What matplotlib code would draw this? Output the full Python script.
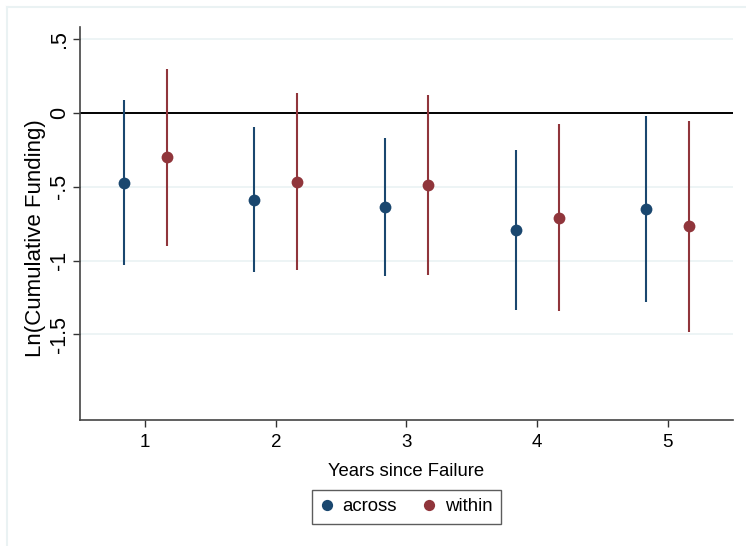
import matplotlib
matplotlib.use("Agg")
import matplotlib.pyplot as plt
from matplotlib.lines import Line2D
import numpy as np

plt.rcParams['font.family'] = ['Liberation Sans', 'DejaVu Sans']

# Event-time coefficients with 95% confidence intervals
years = [1, 2, 3, 4, 5]
across_est = [-0.475, -0.586, -0.638, -0.792, -0.652]
across_lo = [-1.030, -1.075, -1.107, -1.337, -1.283]
across_hi = [0.086, -0.095, -0.167, -0.249, -0.016]
within_est = [-0.300, -0.464, -0.486, -0.710, -0.767]
within_lo = [-0.900, -1.063, -1.097, -1.340, -1.482]
within_hi = [0.300, 0.136, 0.125, -0.074, -0.050]

series_names = ["across", "within"]
yticks = [0.5, 0, -0.5, -1, -1.5]
ytick_labels = [".5", "0", "-.5", "-1", "-1.5"]

navy = "#1a476f"
maroon = "#90353b"
grid_col = "#eaf2f3"

W, H = 746, 546
fig = plt.figure(figsize=(W / 100, H / 100), dpi=100)
ax = fig.add_axes([80 / W, 1 - 420 / H, (733 - 80) / W, (420 - 27) / H])

# light outer frame of the graph region (top and left edges)
fig.lines.append(Line2D([7 / W, 1.0], [1 - 7 / H, 1 - 7 / H],
                        transform=fig.transFigure, color=grid_col, linewidth=1.5))
fig.lines.append(Line2D([7 / W, 7 / W], [0.0, 1 - 7 / H],
                        transform=fig.transFigure, color=grid_col, linewidth=1.5))

x = np.array(years, dtype=float)
off = 0.165

for xs, est, lo, hi, col, name in [
    (x - off, across_est, across_lo, across_hi, navy, series_names[0]),
    (x + off, within_est, within_lo, within_hi, maroon, series_names[1]),
]:
    ax.vlines(xs, lo, hi, color=col, linewidth=1.5, zorder=3)
    ax.plot(xs, est, 'o', color=col, markersize=8.5, markeredgewidth=0,
            linestyle='none', zorder=4, label=name)

ax.axhline(0, color="black", linewidth=1.4, zorder=2)

ax.set_xlim(0.5, 5.5)
ax.set_ylim(-2.08, 0.584)
ax.set_yticks(yticks)
ax.set_yticklabels(ytick_labels, rotation=90, va='center')
ax.set_xticks(years)
ax.set_xticklabels([str(y) for y in years])
ax.tick_params(axis='both', length=5, width=1, color="#333333", colors="black")
ax.tick_params(axis='x', labelsize=13.5, pad=5)
ax.tick_params(axis='y', labelsize=15.5, pad=2)
ax.yaxis.grid(True, color=grid_col, linewidth=1.2)
ax.set_axisbelow(True)

for s in ["top", "right"]:
    ax.spines[s].set_visible(False)
for s in ["left", "bottom"]:
    ax.spines[s].set_color("#444444")
    ax.spines[s].set_linewidth(1.2)

ax.set_xlabel("Years since Failure", fontsize=13.3, labelpad=9)
ax.set_ylabel("Ln(Cumulative Funding)", fontsize=16, labelpad=2)
ax.yaxis.label.set_y(0.463)

leg = ax.legend(loc='upper center', bbox_to_anchor=(0.5, -0.178), ncol=2,
                fontsize=13.4, frameon=True, fancybox=False, edgecolor="#333333",
                handletextpad=0.5, columnspacing=1.4, borderpad=0.45,
                handlelength=0.7, markerscale=0.95, borderaxespad=0)
leg.get_frame().set_linewidth(1.0)

fig.savefig("out.png", dpi=100, facecolor="white")
